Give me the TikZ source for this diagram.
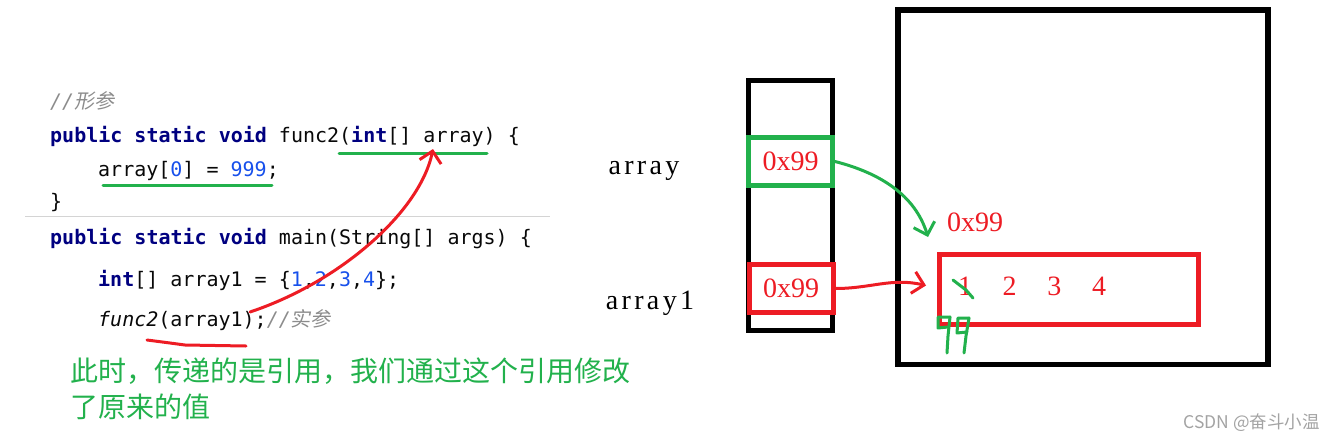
\documentclass[tikz,border=0pt]{standalone}
\usepackage{fontspec}
\setmainfont{Liberation Serif}
\setmonofont{DejaVu Sans Mono}
\newfontfamily\cjk{Noto Sans CJK SC}
\newfontfamily\cjkslant{Noto Sans CJK SC}[FakeSlant=0.2]
\newfontfamily\labelfont{Liberation Serif}[LetterSpace=12]
\usetikzlibrary{arrows.meta, positioning}
\definecolor{kwnavy}{HTML}{000080}
\definecolor{numblue}{HTML}{1750EB}
\definecolor{cmtgray}{HTML}{8C8C8C}
\definecolor{codeink}{HTML}{080808}
\definecolor{markgreen}{HTML}{22B14C}
\definecolor{markred}{HTML}{ED1C24}
\definecolor{rulegray}{HTML}{D4D4D4}
\newcommand{\kw}[1]{{\bfseries\color{kwnavy}#1}}
\newcommand{\nm}[1]{{\color{numblue}#1}}
\newcommand{\cmt}[1]{{\color{cmtgray}\itshape #1}}
\tikzset{
  codeline/.style={anchor=base west, inner sep=0pt, text=codeink,
    font=\ttfamily\fontsize{20}{24}\selectfont},
  varname/.style={inner sep=0pt, text=black, font=\labelfont\fontsize{28}{30}\selectfont},
  addr/.style={inner sep=0pt, text=markred, font=\fontsize{28}{30}\selectfont},
  slot/.style={draw, line width=5pt, minimum width=84pt, minimum height=48pt, inner sep=0pt},
  pen/.style={line width=3pt, line cap=round, line join=round},
  handarrow/.style={pen, -{Straight Barb[length=11pt, width=22pt, line width=3pt]}}
}
\begin{document}
\begin{tikzpicture}[x=1pt, y=-1pt]
\useasboundingbox (0,0) rectangle (1335,442);
% code
\node[codeline] (c1) at (50,108) {\cmt{//{\cjkslant 形参}}};
\node[codeline] (c2) at (50,142) {\kw{public static void} func2(\kw{int}[] array) \{};
\node[codeline] (c3) at (98,176) {array[\nm{0}] = \nm{999};};
\node[codeline] (c4) at (50,208) {\}};
\node[codeline] (c5) at (50,244) {\kw{public static void} main(String[] args) \{};
\node[codeline] (c6) at (98,286) {\kw{int}[] array1 = \{\nm{1},\nm{2},\nm{3},\nm{4}\};};
\node[codeline] (c7) at (98,326) {{\itshape func2}(array1);\cmt{//{\cjkslant 实参}}};
\draw[rulegray, line width=1pt] (25,216) -- (550,216);
% marks on the code
\draw[pen, markgreen] (339,153) -- (487,153);
\draw[pen, markgreen] (103,185) -- (272,185);
\draw[pen, markred] (147,340) -- (170,343) -- (185,345) -- (246,346);
\coordinate (callend) at (250,312);
\coordinate (paramtip) at (433,149);
\draw[handarrow, markred] (callend) .. controls (340,282) and (420,212) .. (paramtip);
% stack
\node[draw, line width=5pt, minimum width=84pt, minimum height=250pt, inner sep=0pt] (stack) at (790.5,205.5) {};
\node[slot, draw=markgreen, fill=white] (ptra) at (790.5,161.5) {};
\node[addr] at (ptra) {0x99};
\node[slot, draw=markred, fill=white] (ptrb) at (791,288.5) {};
\node[addr] at (ptrb) {0x99};
\node[varname] (lbla) at (644,171) {array};
\node[varname] (lblb) at (650,303) {array1};
% heap
\node[draw, line width=5.5pt, minimum width=370pt, minimum height=354.5pt, inner sep=0pt] (heap) at (1083,187.25) {};
\node[draw=markred, line width=5pt, minimum width=259pt, minimum height=70pt, inner sep=0pt] (arr) at (1069,289.5) {};
\node[addr] (heapaddr) at (975,222) {0x99};
\foreach \v [count=\i] in {1,2,3,4}
  \node[addr] (n\i) at ({965+44.7*(\i-1)},286) {\v};
\coordinate (greentip) at (928,237);
\draw[handarrow, markgreen] (ptra.east) .. controls (880,173) and (915,195) .. (greentip);
\draw[handarrow, markred] (ptrb.east) to[out=0, in=167] ([xshift=-11pt, yshift=4pt]arr.west);
% the new value written by hand
\draw[pen, markgreen] (953,280) -- (966,290) -- (973,298);
\draw[pen, markgreen] (950,317) -- (938,317) -- (938,328) -- (948,327);
\draw[pen, markgreen] (950,317) -- (948,336) -- (947,353);
\draw[pen, markgreen] (969,318) -- (958,318) -- (957,333) -- (967,332);
\draw[pen, markgreen] (969,318) -- (966,336) -- (964,353);
% note
\node[anchor=west, inner sep=0pt, text=markgreen, align=left,
  font=\cjk\fontsize{28}{36}\selectfont] (note) at (70,389)
  {此时，传递的是引用，我们通过这个引用修改\\了原来的值};
\node[anchor=east, inner sep=0pt, text=cmtgray!80,
  font=\cjk\fontsize{17.5}{19}\selectfont] (mark) at (1320,423) {CSDN @奋斗小温};
\end{tikzpicture}
\end{document}
